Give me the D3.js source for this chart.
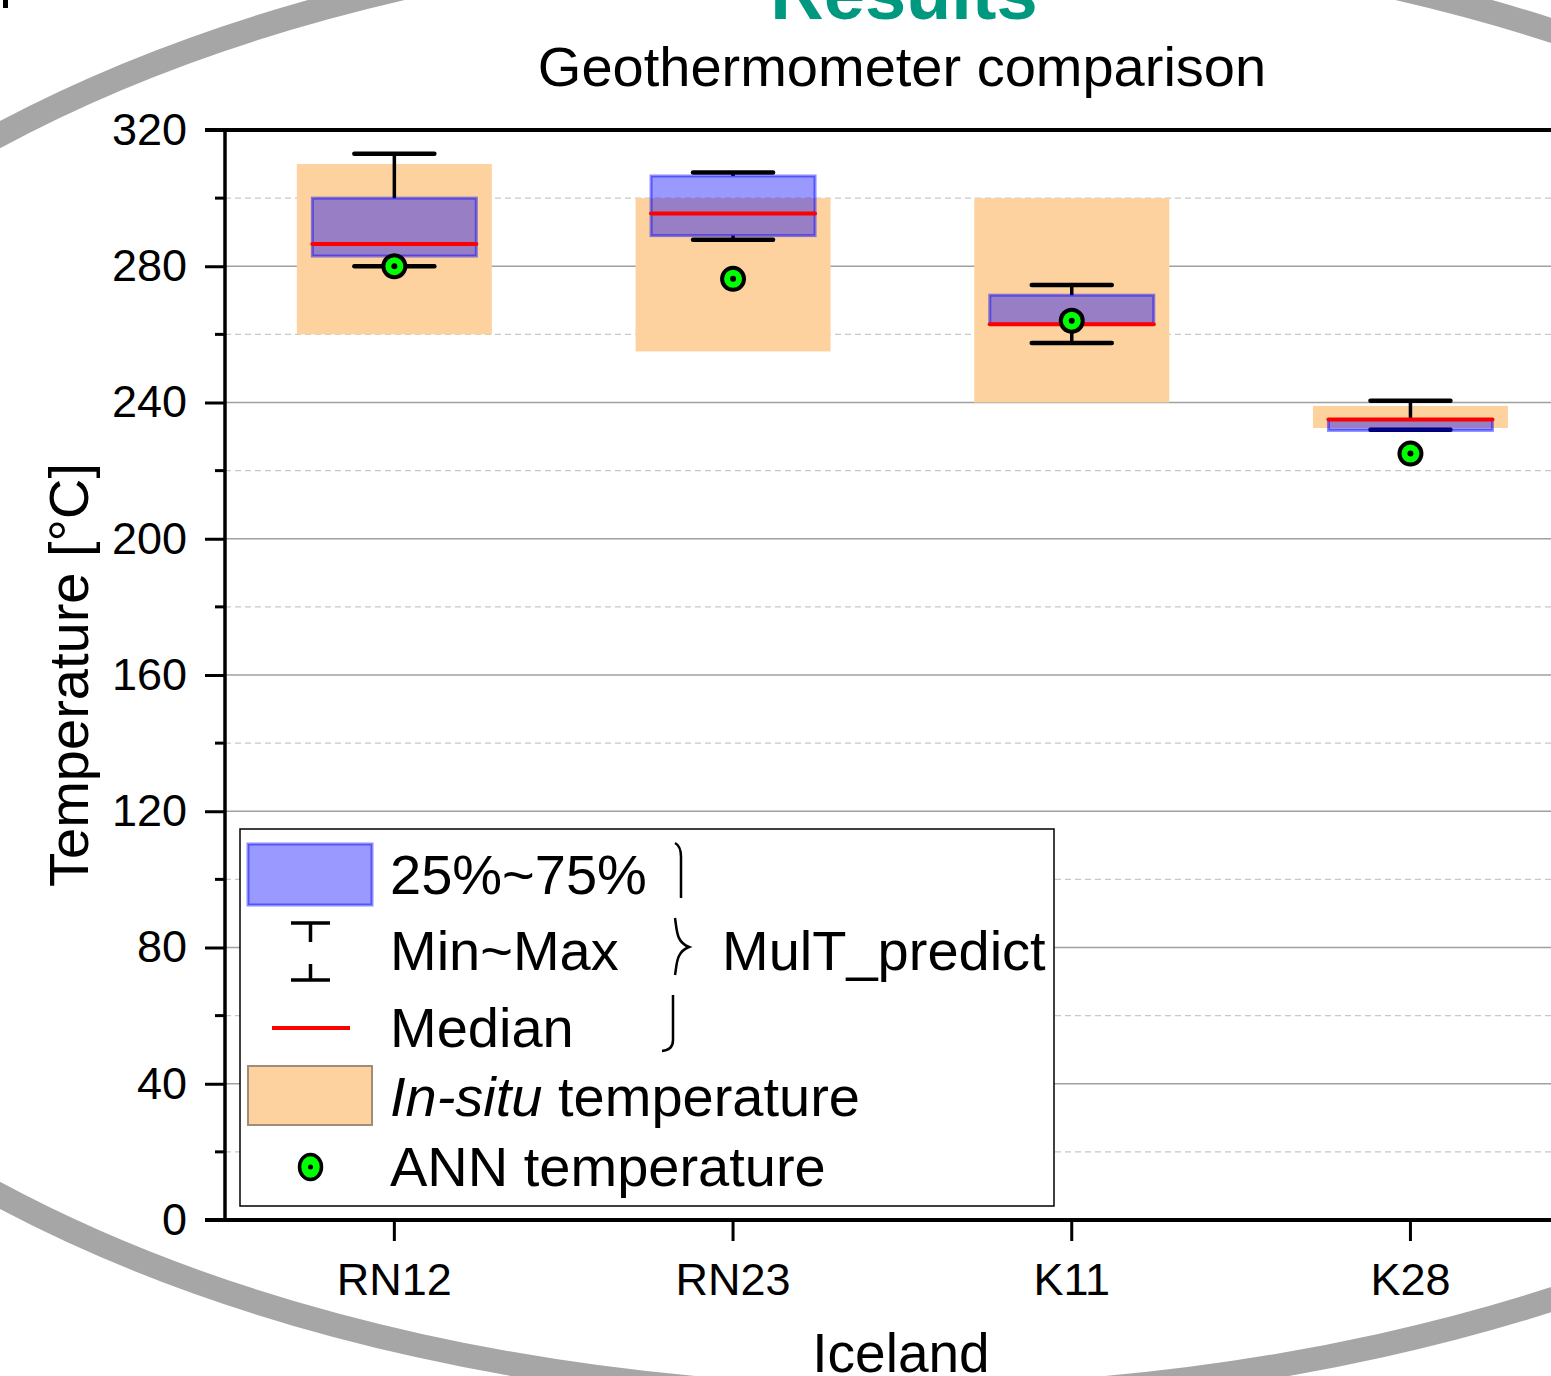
<!DOCTYPE html>
<html>
  <head>
    <style>
      body {margin: 0; background: #ffffff;}
      * {font-family: "Liberation Sans", Arial, sans-serif;}
    </style>
    <script src="https://d3js.org/d3.v7.min.js"></script>
  </head>
  <body>
    <div id="chart-div"></div>
    <script>
      // values
      const sites = ["RN12", "RN23", "K11", "K28"]
      const insituLow  = [260, 255, 240, 232.5]
      const insituHigh = [310, 300, 300, 239]
      const q1     = [283, 289, 263, 231.8]
      const q3     = [300, 306.5, 271.5, 235]
      const median = [286.5, 295.5, 263, 235]
      const minVal = [280, 287.8, 257.5, 232]
      const maxVal = [313, 307.5, 274.5, 240.5]
      const ann    = [280, 276.3, 264, 225]
      const yTicks = [0, 40, 80, 120, 160, 200, 240, 280, 320]
      const yMinor = [20, 60, 100, 140, 180, 220, 260, 300]

      const W = 1551, H = 1376
      const plotLeft = 225, plotTop = 130, plotBottom = 1220
      const step = 338.7

      const svg = d3.select("#chart-div")
        .append("svg")
        .attr("width", W)
        .attr("height", H)

      // slide decoration behind the chart
      svg.append("ellipse")
        .attr("cx", 900).attr("cy", 665)
        .attr("rx", 1306).attr("ry", 732)
        .style("fill", "none")
        .style("stroke", "#a6a6a6")
        .style("stroke-width", 24)
      svg.append("rect")
        .attr("x", 3).attr("y", 0).attr("width", 5).attr("height", 8)
        .style("fill", "#000")

      svg.append("text")
        .attr("x", 904).attr("y", 19)
        .attr("text-anchor", "middle")
        .style("font-size", "74px").style("font-weight", "bold")
        .style("fill", "#009980")
        .text("Results")
      svg.append("text")
        .attr("x", 902).attr("y", 86)
        .attr("text-anchor", "middle")
        .style("font-size", "56px")
        .text("Geothermometer comparison")

      const x = d3.scaleBand()
        .domain(sites)
        .range([plotLeft, plotLeft + step * sites.length])
      const y = d3.scaleLinear()
        .domain([0, 320])
        .range([plotBottom, plotTop])

      const cx = d => x(d) + x.bandwidth() / 2

      // grid
      svg.append("g").selectAll("line")
        .data(yMinor)
        .enter().append("line")
          .attr("x1", plotLeft).attr("x2", W)
          .attr("y1", d => y(d)).attr("y2", d => y(d))
          .style("stroke", "#c8c8c8")
          .style("stroke-width", 1.2)
          .style("stroke-dasharray", "6,4")
      svg.append("g").selectAll("line")
        .data(yTicks.filter(d => d > 0 && d < 320))
        .enter().append("line")
          .attr("x1", plotLeft).attr("x2", W)
          .attr("y1", d => y(d)).attr("y2", d => y(d))
          .style("stroke", "#a0a0a0")
          .style("stroke-width", 1.5)

      const g = svg.append("g")
      const idx = d3.range(sites.length)

      // in-situ range
      g.selectAll(".insitu")
        .data(idx)
        .enter().append("rect")
          .attr("class", "insitu")
          .attr("x", i => cx(sites[i]) - 97.5)
          .attr("width", 195)
          .attr("y", i => y(insituHigh[i]))
          .attr("height", i => y(insituLow[i]) - y(insituHigh[i]))
          .style("fill", "#fdd29e")

      // whiskers
      g.selectAll(".wh")
        .data(idx)
        .enter().append("path")
          .attr("d", i => "M" + cx(sites[i]) + "," + y(q3[i]) + "V" + y(maxVal[i]) +
                          "M" + cx(sites[i]) + "," + y(q1[i]) + "V" + y(minVal[i]))
          .style("stroke", "#000").style("stroke-width", 3.5)
      g.selectAll(".cap")
        .data(idx.flatMap(i => [[i, maxVal[i]], [i, minVal[i]]]))
        .enter().append("line")
          .attr("x1", d => cx(sites[d[0]]) - 40)
          .attr("x2", d => cx(sites[d[0]]) + 40)
          .attr("y1", d => y(d[1])).attr("y2", d => y(d[1]))
          .style("stroke", "#000").style("stroke-width", 4.5)
          .style("stroke-linecap", "round")

      // 25%~75% boxes
      g.selectAll(".box")
        .data(idx)
        .enter().append("rect")
          .attr("x", i => cx(sites[i]) - 82)
          .attr("width", 164)
          .attr("y", i => y(q3[i]))
          .attr("height", i => y(q1[i]) - y(q3[i]))
          .style("fill", "rgba(0,0,255,0.4)")
          .style("stroke", "rgba(0,0,255,0.45)")
          .style("stroke-width", 3)

      g.selectAll(".med")
        .data(idx)
        .enter().append("line")
          .attr("x1", i => cx(sites[i]) - 82)
          .attr("x2", i => cx(sites[i]) + 82)
          .attr("y1", i => y(median[i])).attr("y2", i => y(median[i]))
          .style("stroke", "#ff0000").style("stroke-width", 4)
          .style("stroke-linecap", "round")

      // ANN points
      g.selectAll(".ann")
        .data(idx)
        .enter().append("circle")
          .attr("cx", i => cx(sites[i])).attr("cy", i => y(ann[i]))
          .attr("r", 11)
          .style("fill", "#00ff00").style("stroke", "#000").style("stroke-width", 4)
      g.selectAll(".anndot")
        .data(idx)
        .enter().append("circle")
          .attr("cx", i => cx(sites[i])).attr("cy", i => y(ann[i]))
          .attr("r", 3)
          .style("fill", "#000")

      // axes
      const yAxis = svg.append("g")
        .attr("transform", "translate(" + plotLeft + ",0)")
        .call(d3.axisLeft(y).tickValues(yTicks).tickSize(20).tickPadding(18))
      yAxis.select(".domain").remove()
      yAxis.selectAll(".tick line").style("stroke-width", 3)
      yAxis.selectAll("text").style("font-size", "45px").style("fill", "#000")
      svg.append("g").selectAll("line")
        .data(yMinor)
        .enter().append("line")
          .attr("x1", plotLeft - 10).attr("x2", plotLeft)
          .attr("y1", d => y(d)).attr("y2", d => y(d))
          .style("stroke", "#000").style("stroke-width", 3)

      const xAxis = svg.append("g")
        .attr("transform", "translate(0," + plotBottom + ")")
        .call(d3.axisBottom(x).tickSize(21).tickPadding(22))
      xAxis.select(".domain").remove()
      xAxis.selectAll(".tick line").style("stroke-width", 3)
      xAxis.selectAll("text").style("font-size", "45px").style("fill", "#000")

      svg.append("line")
        .attr("x1", plotLeft).attr("x2", plotLeft).attr("y1", plotTop).attr("y2", plotBottom)
        .style("stroke", "#000").style("stroke-width", 3.5)
      svg.append("line")
        .attr("x1", 205).attr("x2", W).attr("y1", plotTop).attr("y2", plotTop)
        .style("stroke", "#000").style("stroke-width", 4)
      svg.append("line")
        .attr("x1", 205).attr("x2", W).attr("y1", plotBottom).attr("y2", plotBottom)
        .style("stroke", "#000").style("stroke-width", 4)

      svg.append("text")
        .attr("transform", "translate(88,675) rotate(-90)")
        .attr("text-anchor", "middle")
        .style("font-size", "56px")
        .text("Temperature [°C]")
      svg.append("text")
        .attr("x", 901).attr("y", 1372)
        .attr("text-anchor", "middle")
        .style("font-size", "55px")
        .text("Iceland")

      // legend
      const lg = svg.append("g")
      lg.append("rect")
        .attr("x", 240).attr("y", 829).attr("width", 814).attr("height", 377)
        .style("fill", "#fff").style("stroke", "#000").style("stroke-width", 1.5)
      lg.append("rect")
        .attr("x", 248).attr("y", 844).attr("width", 124).attr("height", 61)
        .style("fill", "rgba(0,0,255,0.4)")
        .style("stroke", "rgba(0,0,255,0.45)").style("stroke-width", 3)
      lg.append("path")
        .attr("d", "M291,923H330M310.5,923V942M310.5,964V980M291,980H330")
        .style("fill", "none").style("stroke", "#000").style("stroke-width", 3.5)
      lg.append("line")
        .attr("x1", 272).attr("x2", 350).attr("y1", 1028).attr("y2", 1028)
        .style("stroke", "#ff0000").style("stroke-width", 4)
      lg.append("rect")
        .attr("x", 248).attr("y", 1066).attr("width", 124).attr("height", 59)
        .style("fill", "#fdd29e").style("stroke", "#a08c7a").style("stroke-width", 2)
      lg.append("ellipse")
        .attr("cx", 310.5).attr("cy", 1167).attr("rx", 11).attr("ry", 12.5)
        .style("fill", "#00ff00").style("stroke", "#000").style("stroke-width", 3.5)
      lg.append("circle")
        .attr("cx", 310.5).attr("cy", 1167).attr("r", 2.5)
        .style("fill", "#000")

      const labels = [["25%~75%", 894], ["Min~Max", 970], ["Median", 1047]]
      lg.selectAll(".lbl")
        .data(labels)
        .enter().append("text")
          .attr("x", 390).attr("y", d => d[1])
          .style("font-size", "56px")
          .text(d => d[0])
      const t4 = lg.append("text").attr("x", 390).attr("y", 1116).style("font-size", "56px")
      t4.append("tspan").style("font-style", "italic").text("In-situ")
      t4.append("tspan").text(" temperature")
      lg.append("text").attr("x", 390).attr("y", 1186).style("font-size", "56px")
        .text("ANN temperature")

      // brace grouping the MulT items
      lg.append("path")
        .attr("d", "M675,843 Q681,846 681,857 L681,898" +
                   "M675,918 C677,930 676,942 689,947 C676,952 677,964 675,975" +
                   "M673,995 L673,1040 Q673,1050 662,1051")
        .style("fill", "none").style("stroke", "#000").style("stroke-width", 2.5)
      lg.append("text")
        .attr("x", 722).attr("y", 970)
        .style("font-size", "56px")
        .text("MulT_predict")
    </script>
  </body>
</html>
